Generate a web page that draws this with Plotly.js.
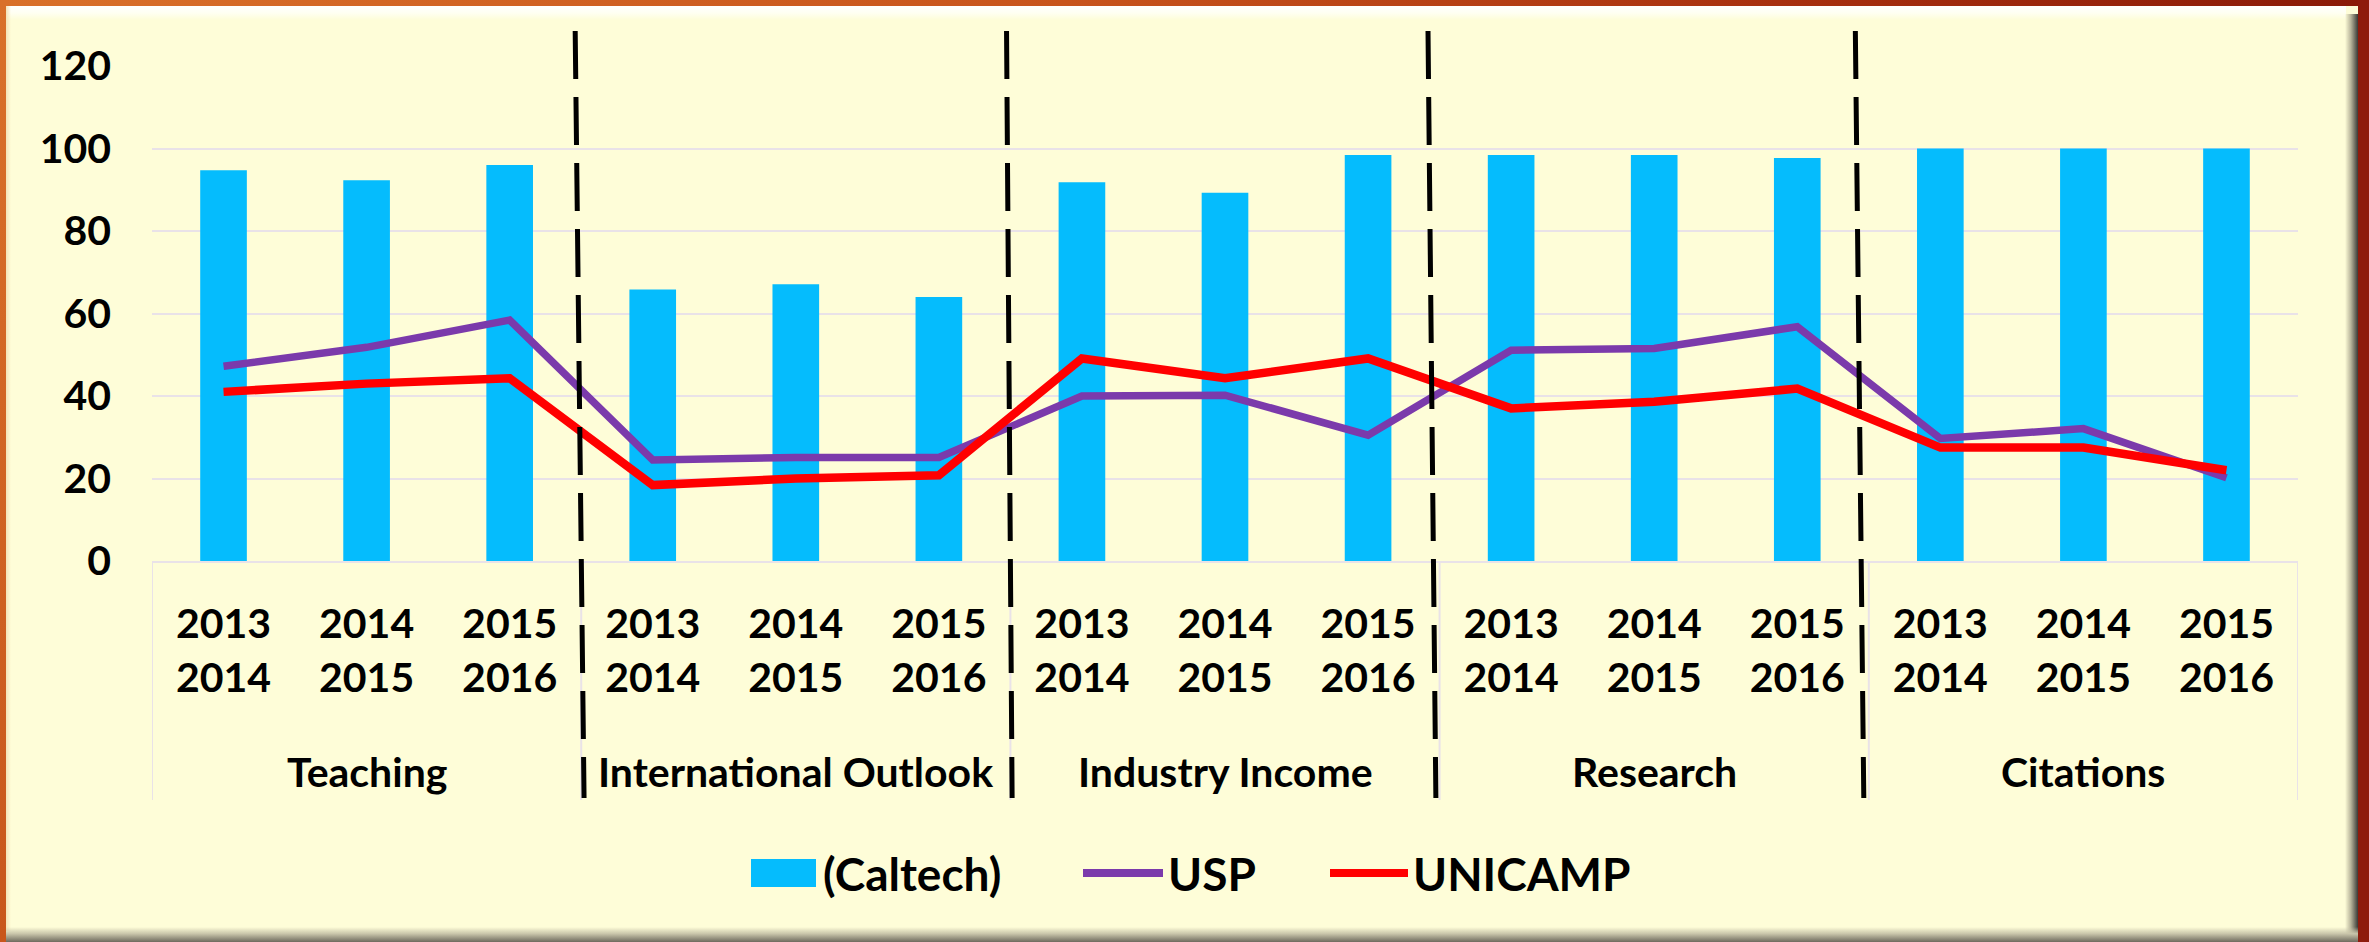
<!DOCTYPE html>
<html>
<head>
<meta charset="utf-8">
<script src="https://cdn.plot.ly/plotly-3.0.1.min.js"></script>
<style>
  html, body { margin: 0; padding: 0; background: #FEFDD8; }
  #wrap { position: relative; width: 2369px; height: 942px; overflow: hidden; }
  #chart { position: absolute; left: 0; top: 0; width: 2369px; height: 942px; }
  .f { position: absolute; pointer-events: none; }
</style>
</head>
<body>
<div id="wrap">
  <div id="chart"></div>
  <div class="f" style="left:0;top:0;width:2369px;height:6px;background:linear-gradient(90deg,#D9702A,#C8541C 45%,#A8300F 75%,#8A1A08);"></div>
  <div class="f" style="left:6px;top:6px;width:2340px;height:14px;background:linear-gradient(180deg,#FFFFFF,#FFFFF2 50%,rgba(254,253,216,0));"></div>
  <div class="f" style="left:0;top:0;width:6px;height:942px;background:linear-gradient(180deg,#D9702A,#C8561C);"></div>
  <div class="f" style="left:6px;top:6px;width:5px;height:925px;background:linear-gradient(90deg,#F4E3B8,rgba(254,253,216,0));"></div>
  <div class="f" style="left:2358px;top:0;width:11px;height:942px;background:#8E1B0C;"></div>
  <div class="f" style="left:2345px;top:14px;width:13px;height:928px;background:linear-gradient(90deg,rgba(254,253,216,0),#B8B49A 45%,#3A3A36);"></div>
  <div class="f" style="left:6px;top:927px;width:2352px;height:15px;background:linear-gradient(180deg,rgba(254,253,216,0),#C9C5AA 45%,#6E6A5E);"></div>
</div>
<script>
// ---- data ----
const groups = ['Teaching', 'International Outlook', 'Industry Income', 'Research', 'Citations'];
const periods = ['2013<br>2014', '2014<br>2015', '2015<br>2016'];
const caltech = [94.7, 92.3, 96.0, 65.8, 67.1, 64.0, 91.8, 89.3, 98.4, 98.4, 98.4, 97.7, 100, 100, 100];
const usp     = [47.2, 51.8, 58.4, 24.5, 25.1, 25.1, 40.0, 40.2, 30.5, 51.1, 51.5, 56.8, 29.7, 32.1, 20.2];
const unicamp = [41.0, 43.0, 44.3, 18.4, 20.0, 20.8, 49.1, 44.3, 49.1, 37.0, 38.6, 41.8, 27.5, 27.5, 22.0];
const seriesNames = ['(Caltech)', 'USP', 'UNICAMP'];

// ---- build categories ----
const xKeys = [], xText = [];
groups.forEach(g => periods.forEach(p => { xKeys.push(g + ' | ' + p.replace('<br>', '-')); xText.push(p); }));

const BLUE = '#05BCFD', PURPLE = '#7B3AAB', RED = '#FF0000';
const FONT = 'Lato, "Open Sans", sans-serif';

const traces = [
  { type: 'bar', x: xKeys, y: caltech, name: seriesNames[0], marker: { color: BLUE }, width: 0.326 },
  { type: 'scatter', mode: 'lines', x: xKeys, y: usp, name: seriesNames[1], line: { color: PURPLE, width: 7.5 } },
  { type: 'scatter', mode: 'lines', x: xKeys, y: unicamp, name: seriesNames[2], line: { color: RED, width: 8.5 } }
];

const W = 2369, H = 942, M = { l: 152, r: 71, t: 66, b: 381 };
const PW = W - M.l - M.r, PH = H - M.t - M.b;
const px2x = p => (p - M.l) / PW;          // page px -> paper x
const px2y = p => (H - M.b - p) / PH;      // page px -> paper y

const n = xKeys.length, per = periods.length;
const shapes = [];
const annotations = [];
const GRID = '#E9E2E8';
// faint dividers below the axis
for (let b = -0.5; b <= n - 0.5 + 1e-9; b += per) {
  shapes.push({ type: 'line', xref: 'x', yref: 'paper', x0: b, x1: b, y0: 0, y1: px2y(800), line: { color: GRID, width: 2 }, layer: 'below' });
}
// hand-drawn dashed separators between groups (slightly slanted)
const slant = [[-0.042, 0.02], [-0.027, 0.012], [-0.081, -0.026], [-0.094, -0.035]];
for (let k = 1; k < groups.length; k++) {
  const b = k * per - 0.5;
  shapes.push({ type: 'line', xref: 'x', yref: 'paper', x0: b + slant[k - 1][0], x1: b + slant[k - 1][1], y0: px2y(31), y1: px2y(798),
    line: { color: '#000000', width: 5, dash: '48px,18px' }, layer: 'above' });
}
// group labels
groups.forEach((g, i) => {
  annotations.push({ xref: 'x', yref: 'paper', x: i * per + (per - 1) / 2, y: px2y(771), yanchor: 'middle', xanchor: 'center',
    text: g, showarrow: false, font: { family: FONT, size: 41, color: '#000', weight: 700 } });
});

// legend (drawn as layout decoration so the swatch sizes match)
const LEGY = 873;
const legendItems = [
  { kind: 'box', color: BLUE, x0: 751, x1: 816, tx: 821 },
  { kind: 'line', color: PURPLE, x0: 1083, x1: 1163, tx: 1166 },
  { kind: 'line', color: RED, x0: 1330, x1: 1408, tx: 1411 }
];
legendItems.forEach((it, i) => {
  if (it.kind === 'box') {
    shapes.push({ type: 'rect', xref: 'paper', yref: 'paper', x0: px2x(it.x0), x1: px2x(it.x1), y0: px2y(LEGY - 14), y1: px2y(LEGY + 14),
      fillcolor: it.color, line: { width: 0 } });
  } else {
    shapes.push({ type: 'line', xref: 'paper', yref: 'paper', x0: px2x(it.x0), x1: px2x(it.x1), y0: px2y(LEGY), y1: px2y(LEGY),
      line: { color: it.color, width: 8 } });
  }
  annotations.push({ xref: 'paper', yref: 'paper', x: px2x(it.tx), y: px2y(LEGY), xanchor: 'left', yanchor: 'middle',
    text: seriesNames[i], showarrow: false, font: { family: FONT, size: 46, color: '#000', weight: 700 } });
});

const layout = {
  width: W, height: H,
  paper_bgcolor: '#FEFDD8', plot_bgcolor: '#FEFDD8',
  margin: M,
  font: { family: FONT, color: '#000', weight: 700 },
  showlegend: false,
  xaxis: { type: 'category', tickmode: 'array', tickvals: xKeys, ticktext: xText, showgrid: false, zeroline: false,
    showline: true, linecolor: GRID, linewidth: 2, ticks: '', ticklabelstandoff: 26,
    tickfont: { family: FONT, size: 41, color: '#000', weight: 700 }, range: [-0.5, n - 0.5], fixedrange: true },
  yaxis: { range: [0, 120], tickvals: [0, 20, 40, 60, 80, 100, 120], showgrid: true, gridcolor: GRID, gridwidth: 2,
    zeroline: false, showline: false, ticks: '', ticklabelstandoff: 40,
    tickfont: { family: FONT, size: 41, color: '#000', weight: 700 }, fixedrange: true },
  shapes: shapes,
  annotations: annotations
};

Plotly.newPlot('chart', traces, layout, { displayModeBar: false, staticPlot: true });
</script>
</body>
</html>
